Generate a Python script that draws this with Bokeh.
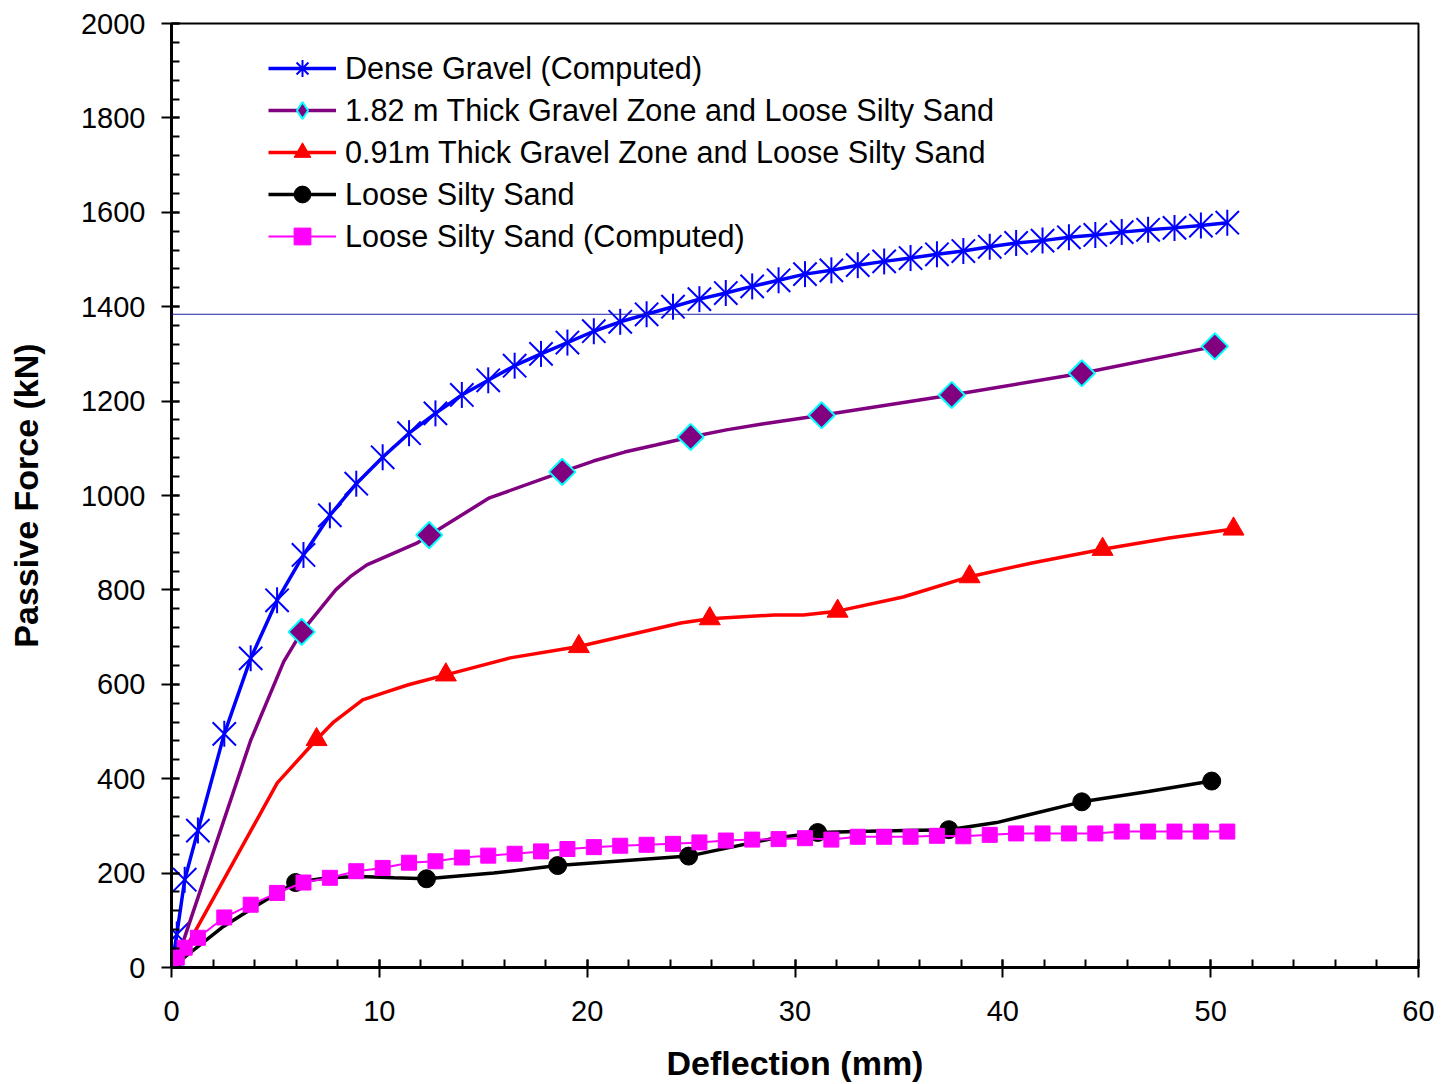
from bokeh.plotting import figure
from bokeh.models import Range1d, SingleIntervalTicker, Legend, LegendItem, Span
from bokeh.embed import file_html
from bokeh.resources import INLINE
import math

# ---------------- data ----------------
# Dense Gravel (Computed)
dg_x = [0, 0.254, 0.635, 1.27, 2.54, 3.81, 5.08, 6.35, 7.62, 8.89, 10.16, 11.43, 12.7,
        13.97, 15.24, 16.51, 17.78, 19.05, 20.32, 21.59, 22.86, 24.13, 25.4, 26.67, 27.94,
        29.21, 30.48, 31.75, 33.02, 34.29, 35.56, 36.83, 38.1, 39.37, 40.64, 41.91, 43.18,
        44.45, 45.72, 46.99, 48.26, 49.53, 50.8]
dg_y = [0, 70, 186, 290, 495, 655, 778, 874, 958, 1025, 1081, 1132, 1174,
        1213, 1244, 1275, 1300, 1324, 1348, 1368, 1384, 1400, 1416, 1429, 1443,
        1456, 1469, 1477, 1488, 1496, 1503, 1511, 1518, 1527, 1535, 1540, 1547,
        1552, 1558, 1563, 1567, 1572, 1578]

# 1.82 m Thick Gravel Zone and Loose Silty Sand (measured: line vertices and marked points)
g182_line_x = [0, 0.45, 3.8, 5.4, 6.26, 7.9, 8.6, 9.4, 10.7, 11.8, 12.4, 15.3, 18.8,
               20.3, 21.8, 23.3, 24.98, 26.7, 28.5, 31.28, 37.54, 43.8, 50.2]
g182_line_y = [0, 40, 480, 648, 711, 800, 828, 853, 878, 899, 916, 995, 1050,
               1073, 1092, 1107, 1124, 1139, 1152, 1170, 1213, 1259, 1316]
g182_mark_x = [0, 6.26, 12.4, 18.8, 24.98, 31.28, 37.54, 43.8, 50.2]
g182_mark_y = [0, 711, 916, 1050, 1124, 1170, 1213, 1259, 1316]

# 0.91m Thick Gravel Zone and Loose Silty Sand
g091_line_x = [0, 0.83, 5.09, 6.98, 7.8, 9.2, 10.2, 11.4, 13.2, 16.3, 19.6, 24.5, 25.9,
               29.0, 30.4, 32.05, 35.2, 38.4, 41.4, 44.8, 48.0, 51.1]
g091_line_y = [0, 52, 391, 483, 520, 567, 582, 599, 620, 656, 680, 730, 739,
               747, 747, 755, 785, 828, 857, 886, 910, 929]
g091_mark_x = [0, 6.98, 13.2, 19.6, 25.9, 32.05, 38.4, 44.8, 51.1]
g091_mark_y = [0, 483, 620, 680, 739, 755, 828, 886, 929]

# Loose Silty Sand (measured)
lss_line_x = [0, 2.5, 3.8, 4.8, 5.97, 7.5, 9.1, 10.7, 12.27, 15.5, 18.58, 24.88, 29.0,
              31.09, 34.0, 37.4, 39.7, 43.8, 47.0, 50.05]
lss_line_y = [0, 87, 123, 150, 180, 190, 193, 190, 188, 200, 216, 236, 274,
              286, 289, 292, 307, 351, 373, 395]
lss_mark_x = [0, 5.97, 12.27, 18.58, 24.88, 31.09, 37.4, 43.8, 50.05]
lss_mark_y = [0, 180, 188, 216, 236, 286, 292, 351, 395]

# Loose Silty Sand (Computed)
lsc_x = dg_x
lsc_y = [0, 21, 42, 63, 106, 133, 158, 180, 190, 204, 211, 222, 225,
         233, 237, 241, 246, 251, 255, 258, 260, 262, 265, 269, 271,
         272, 274, 271, 277, 277, 277, 279, 278, 281, 284, 284, 284,
         284, 288, 288, 288, 288, 288]

labels = ["Dense Gravel (Computed)",
          "1.82 m Thick Gravel Zone and Loose Silty Sand",
          "0.91m Thick Gravel Zone and Loose Silty Sand",
          "Loose Silty Sand",
          "Loose Silty Sand (Computed)"]

x_ticks_interval = 10
y_ticks_interval = 200
stray_line_y = 1384

FONT = "Liberation Sans"
BLUE, PURPLE, CYAN, RED, MAGENTA = "#0000FF", "#800080", "#00FFFF", "#FF0000", "#FF00FF"

# ---------------- figure ----------------
p = figure(width=1441, height=1084, output_backend="svg", toolbar_location=None,
           x_range=Range1d(0, 60), y_range=Range1d(0, 2000),
           min_border_left=171, min_border_right=23, min_border_top=23, min_border_bottom=116)
p.background_fill_color = "white"
p.border_fill_color = "white"
p.outline_line_color = "black"
p.outline_line_width = 2
p.xgrid.visible = False
p.ygrid.visible = False

p.xaxis.ticker = SingleIntervalTicker(interval=x_ticks_interval, num_minor_ticks=5)
p.yaxis.ticker = SingleIntervalTicker(interval=y_ticks_interval, num_minor_ticks=5)

for ax in (p.xaxis, p.yaxis):
    ax.axis_line_width = 3
    ax.axis_line_color = "black"
    ax.major_tick_line_width = 2
    ax.minor_tick_line_width = 2
    ax.major_tick_line_color = "black"
    ax.minor_tick_line_color = "black"
    ax.major_tick_out = 10
    ax.major_tick_in = 8
    ax.minor_tick_out = 0
    ax.minor_tick_in = 8
    ax.major_label_text_font = FONT
    ax.major_label_text_font_size = "29px"
    ax.major_label_text_color = "black"
    ax.axis_label_text_font = FONT
    ax.axis_label_text_font_size = "34px"
    ax.axis_label_text_font_style = "bold"
    ax.axis_label_text_color = "black"

p.xaxis.axis_label = "Deflection (mm)"
p.yaxis.axis_label = "Passive Force (kN)"
p.xaxis.major_label_standoff = 23
p.xaxis.axis_label_standoff = 20
p.yaxis.major_label_standoff = 16
p.yaxis.axis_label_standoff = 33

# Dense Gravel (computed) - blue with Excel-like star markers
r1l = p.line(dg_x, dg_y, line_color=BLUE, line_width=3.5)
r1a = p.scatter(dg_x, dg_y, marker="x", size=33, line_color=BLUE, line_width=2)
r1b = p.scatter(dg_x, dg_y, marker="dash", size=26, angle=math.pi / 2,
                line_color=BLUE, line_width=2)

# 1.82 m
r2l = p.line(g182_line_x, g182_line_y, line_color=PURPLE, line_width=3.5)
r2m = p.scatter(g182_mark_x, g182_mark_y, marker="square", size=18.5, angle=math.pi / 4,
                fill_color=PURPLE, line_color=CYAN, line_width=2)

# 0.91 m
r3l = p.line(g091_line_x, g091_line_y, line_color=RED, line_width=3.5)
r3m = p.scatter(g091_mark_x, g091_mark_y, marker="triangle", size=21,
                fill_color=RED, line_color=RED, line_width=1)

# Loose silty sand measured
r4l = p.line(lss_line_x, lss_line_y, line_color="black", line_width=3.5)
r4m = p.scatter(lss_mark_x, lss_mark_y, marker="circle", size=18,
                fill_color="black", line_color="black")

# Loose silty sand computed
r5l = p.line(lsc_x, lsc_y, line_color=MAGENTA, line_width=2)
r5m = p.scatter(lsc_x, lsc_y, marker="square", size=15,
                fill_color=MAGENTA, line_color=MAGENTA)

# hidden renderers only used for the legend key symbols
k1 = p.scatter(dg_x, dg_y, marker="asterisk", size=20, line_color=BLUE, line_width=2, visible=False)
k2 = p.scatter(g182_mark_x, g182_mark_y, marker="diamond", size=20,
               fill_color=PURPLE, line_color=CYAN, line_width=2, visible=False)

p.add_layout(Span(location=stray_line_y, dimension="width", line_color="#1c1ca8", line_width=1))

legend = Legend(items=[
    LegendItem(label=labels[0], renderers=[r1l, k1]),
    LegendItem(label=labels[1], renderers=[r2l, k2]),
    LegendItem(label=labels[2], renderers=[r3l, r3m]),
    LegendItem(label=labels[3], renderers=[r4l, r4m]),
    LegendItem(label=labels[4], renderers=[r5l, r5m]),
], location=(97, 710))
legend.border_line_color = None
legend.background_fill_alpha = 0
legend.inactive_fill_alpha = 0
legend.label_text_font = FONT
legend.label_text_font_size = "30.6px"
legend.label_text_color = "black"
legend.glyph_width = 68
legend.glyph_height = 42
legend.label_height = 42
legend.label_standoff = 9
legend.spacing = 0
legend.padding = 0
legend.margin = 0
p.add_layout(legend, "center")

open("out.html", "w").write(file_html(p, INLINE))
